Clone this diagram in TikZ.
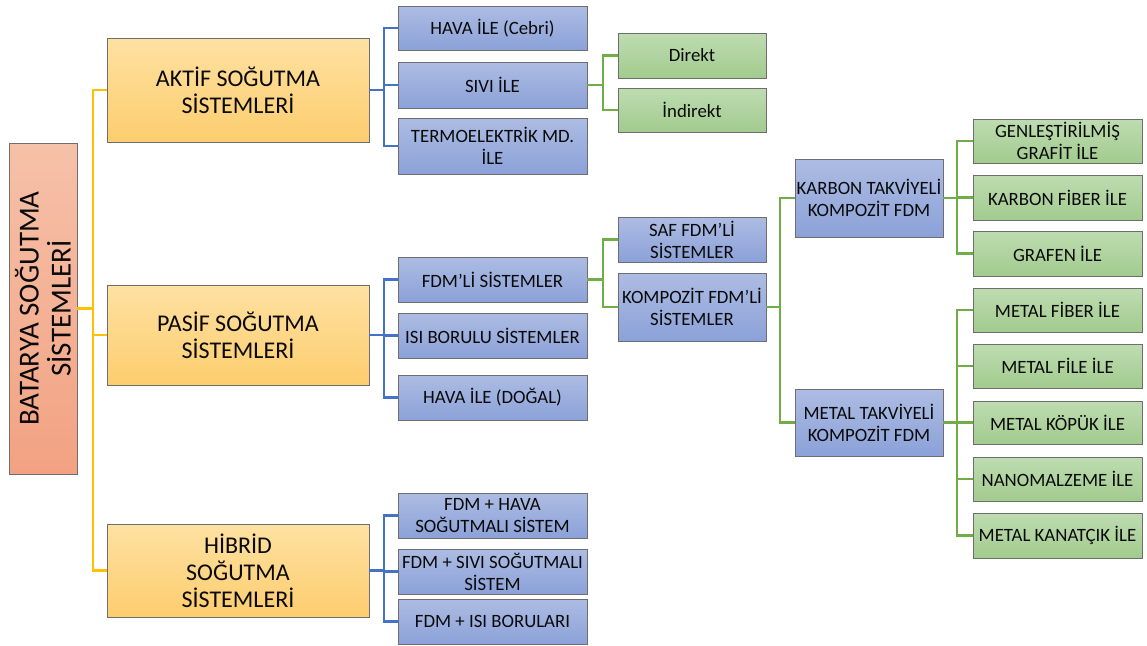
\documentclass[tikz,border=0pt]{standalone}
\usepackage{fontspec}
\setmainfont{Carlito}
\definecolor{orTop}{HTML}{FEE1A2}
\definecolor{orBot}{HTML}{FDCD6E}
\definecolor{rtTop}{HTML}{F6C1A9}
\definecolor{rtBot}{HTML}{F2A282}
\definecolor{blTop}{HTML}{ADBCE3}
\definecolor{blBot}{HTML}{8BA1D8}
\definecolor{grTop}{HTML}{BEDCB1}
\definecolor{grBot}{HTML}{A2CB8E}
\definecolor{lnY}{HTML}{FFC000}
\definecolor{lnB}{HTML}{4472C4}
\definecolor{lnG}{HTML}{70AD47}
\definecolor{bord}{HTML}{6E6E6E}
\definecolor{txt}{HTML}{0A0A0A}
\begin{document}
\begin{tikzpicture}[x=1pt,y=-1pt,
  boxbase/.style={draw=bord, line width=0.8pt, align=center, inner sep=1pt, text=txt,
    font=\fontsize{18.8}{22}\selectfont},
  obox/.style={boxbase, top color=orTop, bottom color=orBot, minimum width=262pt,
    font=\fontsize{24}{27}\selectfont},
  bbox/.style={boxbase, top color=blTop, bottom color=blBot},
  gbox/.style={boxbase, top color=grTop, bottom color=grBot},
  rbox/.style={boxbase, top color=rtTop, bottom color=rtBot},
  col1/.style={minimum width=189pt},
  col2/.style={minimum width=148pt},
  col3/.style={minimum width=169pt},
  yl/.style={draw=lnY, line width=2.3pt},
  bl/.style={draw=lnB, line width=2.3pt},
  gl/.style={draw=lnG, line width=2.3pt}
]
\useasboundingbox[fill=white] (0,0) rectangle (1147,645);

% root
\node[rbox, minimum width=68pt, minimum height=331pt] (root) at (43,308.5) {};
\node[rotate=90, align=center, text=txt, font=\fontsize{29}{32}\selectfont] (roottext) at (root.center) {BATARYA SOĞUTMA\\SİSTEMLERİ};

% level 1
\node[obox, minimum height=104pt] (aktif) at (238,90) {AKTİF SOĞUTMA\\SİSTEMLERİ};
\node[obox, minimum height=100pt] (pasif) at (238,335) {PASİF SOĞUTMA\\SİSTEMLERİ};
\node[obox, minimum height=93pt] (hibrid) at (238,570.5) {HİBRİD\\SOĞUTMA\\SİSTEMLERİ};

% aktif children
\node[bbox, col1, minimum height=44pt] (hava1) at (492.5,28) {HAVA İLE (Cebri)};
\node[bbox, col1, minimum height=46pt] (sivi) at (492.5,85) {SIVI İLE};
\node[bbox, col1, minimum height=56pt] (termo) at (492.5,146) {TERMOELEKTRİK MD.\\İLE};

% sivi children
\node[gbox, col2, minimum height=45pt] (direkt) at (692,55.5) {Direkt};
\node[gbox, col2, minimum height=44pt] (indirekt) at (692,110) {İndirekt};

% pasif children
\node[bbox, col1, minimum height=45pt] (fdm) at (492.5,279.5) {FDM’Lİ SİSTEMLER};
\node[bbox, col1, minimum height=45pt] (isi) at (492.5,335.5) {ISI BORULU SİSTEMLER};
\node[bbox, col1, minimum height=45pt] (hava2) at (492.5,397.5) {HAVA İLE (DOĞAL)};

% fdm children
\node[bbox, col2, minimum height=45pt] (saf) at (692,239.5) {SAF FDM’Lİ\\SİSTEMLER};
\node[bbox, col2, minimum height=68pt] (komp) at (692,307) {KOMPOZİT FDM’Lİ\\SİSTEMLER};

% komp children
\node[bbox, col2, minimum height=78pt] (karbon) at (869,198) {KARBON TAKVİYELİ\\KOMPOZİT FDM};
\node[bbox, col2, minimum height=67pt] (metal) at (869,422.5) {METAL TAKVİYELİ\\KOMPOZİT FDM};

% karbon children
\node[gbox, col3, minimum height=44pt] (genl) at (1057.5,141) {GENLEŞTİRİLMİŞ\\GRAFİT İLE};
\node[gbox, col3, minimum height=45pt] (kfiber) at (1057.5,197.5) {KARBON FİBER İLE};
\node[gbox, col3, minimum height=45pt] (grafen) at (1057.5,253.5) {GRAFEN İLE};

% metal children
\node[gbox, col3, minimum height=44pt] (mfiber) at (1057.5,310) {METAL FİBER İLE};
\node[gbox, col3, minimum height=44pt] (mfile) at (1057.5,366) {METAL FİLE İLE};
\node[gbox, col3, minimum height=43pt] (mkopuk) at (1057.5,422.5) {METAL KÖPÜK İLE};
\node[gbox, col3, minimum height=44pt] (nano) at (1057.5,479) {NANOMALZEME İLE};
\node[gbox, col3, minimum height=45pt] (kanat) at (1057.5,535.5) {METAL KANATÇIK İLE};

% hibrid children
\node[bbox, col1, minimum height=45pt] (h1) at (492.5,515.5) {FDM + HAVA\\SOĞUTMALI SİSTEM};
\node[bbox, col1, minimum height=45pt] (h2) at (492.5,571.5) {FDM + SIVI SOĞUTMALI\\SİSTEM};
\node[bbox, col1, minimum height=45pt] (h3) at (492.5,621.5) {FDM + ISI BORULARI};

% connectors
\coordinate (ty) at (93,308.5);
\draw[yl] (root.east) -- (ty);
\draw[yl] (ty) |- (aktif.west);
\draw[yl] (ty) |- (pasif.west);
\draw[yl] (ty) |- (hibrid.west);

\coordinate (tb1) at (384,90);
\draw[bl] (aktif.east) -- (tb1);
\draw[bl] (tb1) |- (hava1.west);
\draw[bl] (tb1) |- (sivi.west);
\draw[bl] (tb1) |- (termo.west);

\coordinate (tg1) at (603,85);
\draw[gl] (sivi.east) -- (tg1);
\draw[gl] (tg1) |- (direkt.west);
\draw[gl] (tg1) |- (indirekt.west);

\coordinate (tb2) at (384,335);
\draw[bl] (pasif.east) -- (tb2);
\draw[bl] (tb2) |- (fdm.west);
\draw[bl] (tb2) |- (isi.west);
\draw[bl] (tb2) |- (hava2.west);

\coordinate (tg2) at (603,279.5);
\draw[gl] (fdm.east) -- (tg2);
\draw[gl] (tg2) |- (saf.west);
\draw[gl] (tg2) |- (komp.west);

\coordinate (tg3) at (780,307);
\draw[gl] (komp.east) -- (tg3);
\draw[gl] (tg3) |- (karbon.west);
\draw[gl] (tg3) |- (metal.west);

\coordinate (tg4) at (957,198);
\draw[gl] (karbon.east) -- (tg4);
\draw[gl] (tg4) |- (genl.west);
\draw[gl] (tg4) |- (kfiber.west);
\draw[gl] (tg4) |- (grafen.west);

\coordinate (tg5) at (957,422.5);
\draw[gl] (metal.east) -- (tg5);
\draw[gl] (tg5) |- (mfiber.west);
\draw[gl] (tg5) |- (mfile.west);
\draw[gl] (tg5) |- (mkopuk.west);
\draw[gl] (tg5) |- (nano.west);
\draw[gl] (tg5) |- (kanat.west);

\coordinate (tb3) at (384,570.5);
\draw[bl] (hibrid.east) -- (tb3);
\draw[bl] (tb3) |- (h1.west);
\draw[bl] (tb3) |- (h2.west);
\draw[bl] (tb3) |- (h3.west);
\end{tikzpicture}
\end{document}
